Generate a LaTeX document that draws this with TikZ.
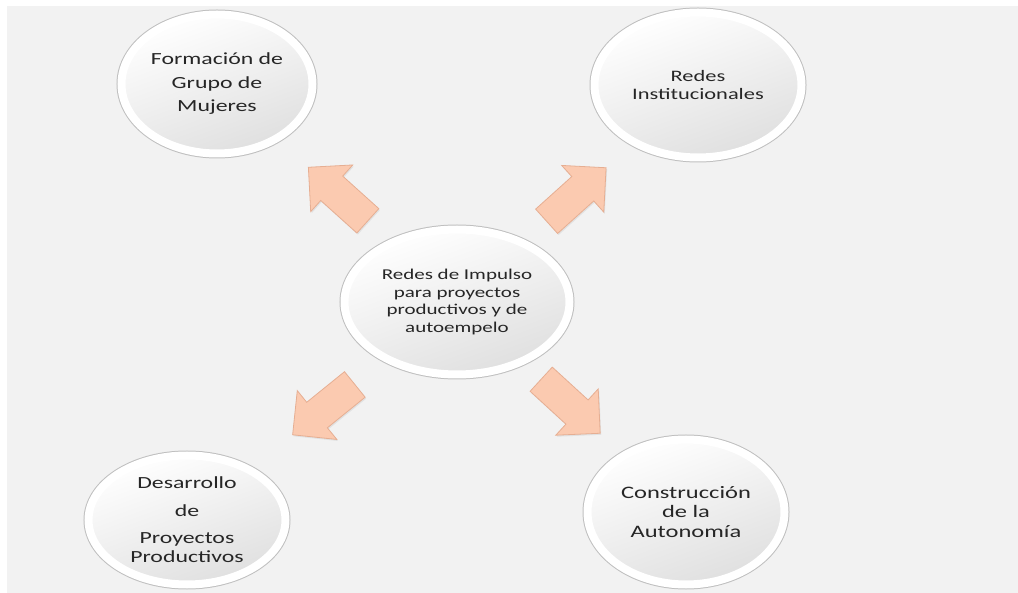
\documentclass[tikz,border=0pt]{standalone}
\usepackage{fontspec}
\setmainfont{Carlito}[FakeStretch=1.4]
\usepackage{tikz}
\usetikzlibrary{shapes.geometric, shapes.arrows, shadows, calc}
\definecolor{panel}{HTML}{F2F2F2}
\definecolor{peach}{HTML}{FBCAB0}
\definecolor{peachline}{HTML}{E6AE92}
\tikzset{
  bubble/.style    = {ellipse, inner sep=0pt, align=center, text=black!85,
                      drop shadow={shadow xshift=2pt, shadow yshift=-3pt, opacity=0.18},
                      preaction={draw=gray!50, line width=10pt},
                      draw=white, line width=8pt,
                      top color=white, bottom color=gray!25, shading angle=20},
  blockarrow/.style = {single arrow, fill=peach, draw=peachline, line width=0.8pt,
                      minimum height=80pt, minimum width=62pt,
                      inner xsep=0pt, inner ysep=16pt,
                      single arrow head extend=15pt, single arrow tip angle=90,
                      drop shadow={shadow xshift=1pt, shadow yshift=-1.5pt, opacity=0.15}}
}

\begin{document}
\begin{tikzpicture}[x=1pt, y=-1pt]
  \useasboundingbox (0,0) rectangle (1018,593);
  % panel
  \fill[panel] (7,6) rectangle (1018,593);

  % Nodes
  %% centre
  \node (impulso)      [bubble, minimum width=225pt, minimum height=145pt,
                        font=\fontsize{15}{17.5}\selectfont] at (457,302)
                       {Redes de Impulso\\para proyectos\\productivos y de\\autoempelo};
  %% upper row
  \node (formacion)    [bubble, minimum width=191pt, minimum height=139pt,
                        font=\fontsize{17}{23.5}\selectfont] at (217,84)
                       {Formación de\\Grupo de\\Mujeres};
  \node (institucion)  [bubble, minimum width=207pt, minimum height=145pt,
                        font=\fontsize{16}{18}\selectfont] at (698,85)
                       {Redes\\Institucionales};
  %% lower row
  \node (desarrollo)   [bubble, minimum width=197pt, minimum height=129pt,
                        font=\fontsize{17}{19}\selectfont] at (187,520)
                       {Desarrollo\\[9pt]de\\[8pt]Proyectos\\Productivos};
  \node (construccion) [bubble, minimum width=197pt, minimum height=145pt,
                        font=\fontsize{17.5}{19.5}\selectfont] at (686,512)
                       {Construcción\\de la\\Autonomía};

  % Arrows
  \foreach \tgt/\ang in {formacion/138, institucion/42, desarrollo/219, construccion/-42.5}
    \node (arr-\tgt) [blockarrow, rotate=\ang] at ($(impulso)!0.47!(\tgt)$) {};
\end{tikzpicture}
\end{document}
